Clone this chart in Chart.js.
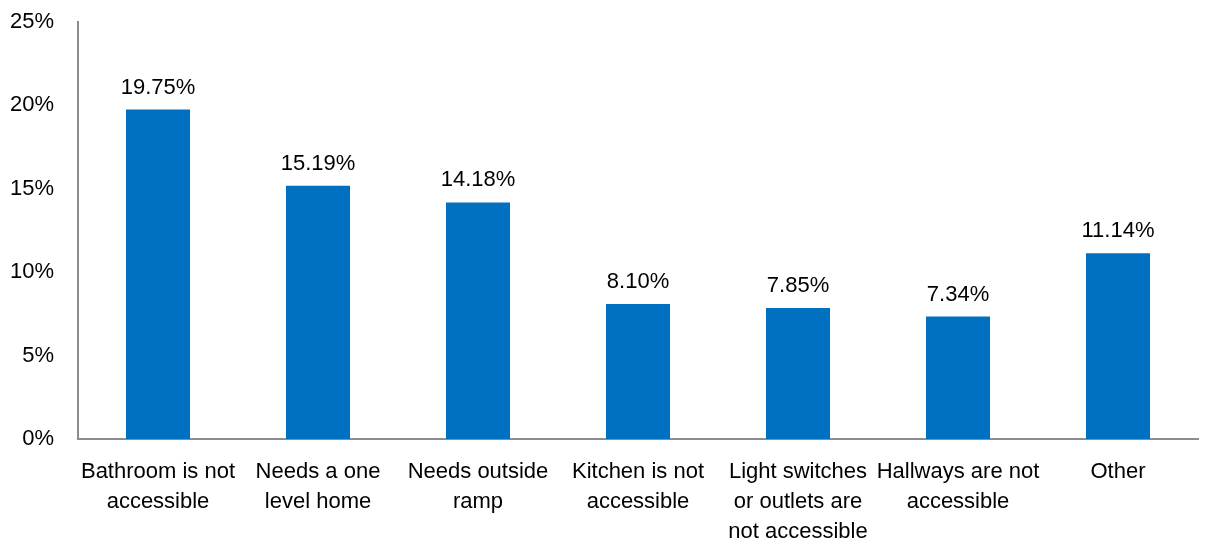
<!DOCTYPE html>
<html>
<head>
<meta charset="utf-8">
<script src="https://cdn.jsdelivr.net/npm/chart.js@4"></script>
<style>
  html, body { margin: 0; padding: 0; background: #fff; }
  #wrap { width: 1205px; height: 546px; }
</style>
</head>
<body>
<div id="wrap"><canvas id="chart" width="1205" height="546"></canvas></div>
<script>
// --- dados ---
const categories = [
    ['Bathroom is not', 'accessible'],
    ['Needs a one', 'level home'],
    ['Needs outside', 'ramp'],
    ['Kitchen is not', 'accessible'],
    ['Light switches', 'or outlets are', 'not accessible'],
    ['Hallways are not', 'accessible'],
    'Other'
];
const values = [19.75, 15.19, 14.18, 8.10, 7.85, 7.34, 11.14];
const yTicks = [0, 5, 10, 15, 20, 25];

const FONT = "'Liberation Sans', Arial, sans-serif";

// rótulos acima das barras
const valueLabels = {
    id: 'valueLabels',
    afterDatasetsDraw(chart) {
        const ctx = chart.ctx;
        const meta = chart.getDatasetMeta(0);
        ctx.save();
        ctx.font = `22px ${FONT}`;
        ctx.fillStyle = '#000';
        ctx.textAlign = 'center';
        ctx.textBaseline = 'alphabetic';
        meta.data.forEach((bar, i) => {
            ctx.fillText(values[i].toFixed(2) + '%', bar.x, bar.y - 16);
        });
        ctx.restore();
    }
};

const ctx = document.getElementById('chart').getContext('2d');
new Chart(ctx, {
    type: 'bar',
    data: {
        labels: categories,
        datasets: [{
            data: values,
            backgroundColor: '#0070C0',
            barPercentage: 0.4,
            categoryPercentage: 1.0
        }]
    },
    options: {
        responsive: false,
        animation: false,
        layout: { padding: { top: 22, right: 7, left: 0, bottom: 0 } },
        plugins: { legend: { display: false }, tooltip: { enabled: false } },
        scales: {
            x: {
                grid: { display: false, drawTicks: false },
                border: { color: '#8c8c8c', width: 2 },
                ticks: {
                    color: '#000',
                    font: { family: FONT, size: 22, lineHeight: 1.36 },
                    padding: 18,
                    maxRotation: 0,
                    autoSkip: false
                },
                afterFit(scale) { scale.height = 107; }
            },
            y: {
                min: 0,
                max: 25,
                afterBuildTicks(scale) { scale.ticks = yTicks.map(v => ({ value: v })); },
                grid: { display: false, drawTicks: false },
                border: { color: '#8c8c8c', width: 2 },
                ticks: {
                    color: '#000',
                    font: { family: FONT, size: 22 },
                    padding: 24,
                    callback: v => v + '%'
                },
                afterFit(scale) {
                    scale.width = 78;
                    scale.paddingTop = 0;
                    scale.paddingBottom = 0;
                }
            }
        }
    },
    plugins: [valueLabels]
});
</script>
</body>
</html>
